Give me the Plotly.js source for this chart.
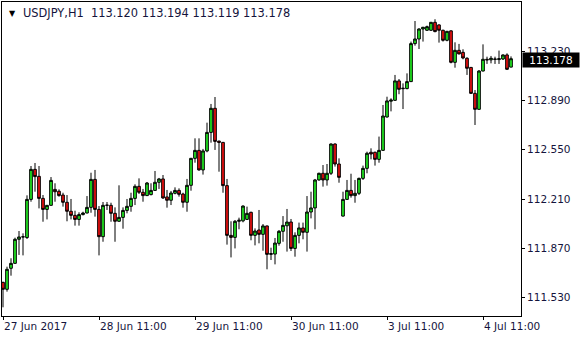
<!DOCTYPE html>
<html>
<head>
<meta charset="utf-8">
<script src="https://cdn.plot.ly/plotly-3.0.1.min.js"></script>
<style>html,body{margin:0;padding:0;background:#fff;}#chart{width:580px;height:340px;}</style>
</head>
<body>
<div id="chart"></div>
<script>
const symbol = "USDJPY,H1";
const openP = [111.636,111.588,111.733,111.767,111.933,111.949,111.945,112.208,112.415,112.367,
112.215,112.139,112.167,112.277,112.264,112.238,112.188,112.126,112.098,112.070,
112.103,112.114,112.153,112.346,112.139,111.951,112.167,112.167,112.112,112.057,
112.084,112.132,112.160,112.215,112.298,112.257,112.234,112.241,112.270,112.326,
112.349,112.225,112.202,112.250,112.270,112.245,112.188,112.305,112.491,112.546,
112.411,112.542,112.670,112.836,112.610,112.601,112.303,111.960,111.946,112.057,
112.060,112.070,112.119,111.960,111.997,111.967,112.025,111.829,111.831,111.905,
111.988,112.026,112.052,111.870,111.960,112.011,111.981,112.121,112.149,112.342,
112.388,112.342,112.388,112.590,112.452,112.093,112.208,112.270,112.234,112.250,
112.353,112.422,112.533,112.533,112.484,112.546,112.776,112.885,112.891,113.025,
112.971,112.972,113.020,113.282,113.314,113.383,113.374,113.374,113.429,113.411,
113.374,113.305,113.370,113.153,113.236,113.222,113.181,113.118,112.939,112.829,
113.093,113.174,113.170,113.176,113.172,113.176,113.204,113.120];
const highP = [111.640,111.744,111.802,111.944,111.990,111.974,112.236,112.438,112.459,112.438,
112.238,112.168,112.362,112.319,112.277,112.254,112.238,112.211,112.130,112.119,
112.123,112.231,112.392,112.411,112.162,112.190,112.190,112.185,112.153,112.305,
112.153,112.211,112.254,112.312,112.353,112.280,112.328,112.319,112.404,112.356,
112.376,112.273,112.266,112.291,112.284,112.254,112.349,112.494,112.629,112.629,
112.556,112.737,112.866,112.914,112.612,112.604,112.349,112.057,112.066,112.082,
112.167,112.158,112.123,112.008,112.135,112.038,112.027,111.875,111.942,111.997,
112.093,112.142,112.073,111.981,112.048,112.048,112.231,112.261,112.349,112.392,
112.445,112.452,112.594,112.594,112.491,112.261,112.342,112.385,112.342,112.358,
112.441,112.537,112.560,112.537,112.641,112.859,112.916,112.905,113.066,113.038,
113.008,113.077,113.296,113.438,113.388,113.396,113.406,113.431,113.450,113.415,
113.378,113.369,113.374,113.291,113.280,113.243,113.188,113.121,112.962,113.100,
113.277,113.192,113.197,113.192,113.234,113.208,113.215,113.194];
const lowP = [111.464,111.572,111.682,111.765,111.825,111.822,111.935,112.192,112.261,112.146,
112.054,112.070,112.165,112.192,112.227,112.158,112.057,112.070,112.027,112.027,
112.098,112.112,112.116,112.089,111.822,111.916,112.135,112.054,111.916,112.054,
112.006,112.112,112.123,112.169,112.245,112.192,112.232,112.236,112.266,112.280,
112.211,112.151,112.169,112.243,112.227,112.151,112.123,112.268,112.461,112.406,
112.379,112.533,112.599,112.549,112.399,112.254,111.896,111.808,111.870,112.002,
112.050,112.066,111.926,111.891,111.905,111.854,111.726,111.790,111.760,111.889,
111.916,111.848,111.852,111.813,111.905,111.933,111.848,112.077,112.002,112.337,
112.296,112.303,112.376,112.434,112.323,112.089,112.204,112.220,112.185,112.238,
112.342,112.388,112.484,112.441,112.461,112.544,112.772,112.815,112.887,112.933,
112.831,112.967,113.018,113.268,113.245,113.296,113.369,113.369,113.360,113.289,
113.296,113.298,113.146,113.116,113.208,113.174,113.066,112.935,112.721,112.827,
113.091,113.142,113.146,113.142,113.142,113.169,113.100,113.119];
const closeP = [111.588,111.726,111.767,111.933,111.949,111.950,112.208,112.415,112.365,112.215,
112.139,112.167,112.339,112.261,112.234,112.188,112.126,112.098,112.070,112.103,
112.114,112.153,112.346,112.139,111.951,112.167,112.168,112.112,112.057,112.084,
112.132,112.160,112.215,112.298,112.257,112.234,112.321,112.270,112.326,112.349,
112.218,112.202,112.252,112.270,112.243,112.188,112.305,112.491,112.546,112.411,
112.542,112.670,112.836,112.608,112.601,112.303,111.960,111.946,112.057,112.064,
112.162,112.112,111.960,111.990,111.967,112.025,111.829,111.834,111.907,111.988,
112.029,112.052,111.870,111.960,112.011,111.981,112.121,112.149,112.342,112.388,
112.342,112.388,112.590,112.452,112.360,112.208,112.270,112.234,112.250,112.353,
112.422,112.526,112.521,112.484,112.546,112.783,112.887,112.893,113.025,112.967,
112.974,113.020,113.282,113.314,113.383,113.395,113.399,113.429,113.365,113.374,
113.305,113.367,113.153,113.236,113.211,113.183,113.112,112.939,112.829,113.093,
113.174,113.170,113.181,113.174,113.178,113.204,113.105,113.178];
const xTickBars = [0, 24, 48, 72, 96, 120];
const xTickLabels = ["27 Jun 2017", "28 Jun 11:00", "29 Jun 11:00", "30 Jun 11:00", "3 Jul 11:00", "4 Jul 11:00"];
const yTickValues = [111.530, 111.870, 112.210, 112.550, 112.890, 113.230];
const yTickLabels = ["111.530", "111.870", "112.210", "112.550", "112.890", "113.230"];

const barIndex = openP.map((_, i) => i);
const last = openP.length - 1;
const fmt = v => v.toFixed(3);
const txtColor = "#14143c";
const font = {family: "DejaVu Sans", size: 10.5, color: txtColor};
const NB = "\u00a0";

const trace = {
  type: "candlestick",
  x: barIndex, open: openP, high: highP, low: lowP, close: closeP,
  increasing: {line: {color: "#000000", width: 1}, fillcolor: "#22ee22"},
  decreasing: {line: {color: "#000000", width: 1}, fillcolor: "#f01010"},
  whiskerwidth: 0,
  hoverinfo: "skip",
  showlegend: false
};

const headerText = symbol + NB + NB + fmt(openP[last]) + NB + fmt(highP[last]) + NB + fmt(lowP[last]) + NB + fmt(closeP[last]);

const layout = {
  width: 580, height: 340,
  margin: {l: 2, r: 59, t: 2, b: 24, pad: 0},
  paper_bgcolor: "#ffffff", plot_bgcolor: "#ffffff",
  showlegend: false,
  font: font,
  boxgap: 0.05,
  xaxis: {
    range: [-0.25, 129.5], showgrid: false, zeroline: false,
    showline: true, linecolor: "#000000", linewidth: 1, mirror: true,
    ticks: "outside", ticklen: 3, tickcolor: "#000000", tickwidth: 1,
    tickvals: xTickBars, ticktext: xTickLabels,
    ticklabelposition: "outside right",
    tickfont: font,
    rangeslider: {visible: false}, fixedrange: true
  },
  yaxis: {
    side: "right", range: [111.404, 113.569], showgrid: false, zeroline: false,
    showline: true, linecolor: "#000000", linewidth: 1, mirror: true,
    ticks: "outside", ticklen: 3, tickcolor: "#000000", tickwidth: 1,
    tickvals: yTickValues, ticktext: yTickLabels,
    tickfont: font, fixedrange: true
  },
  annotations: [
    {xref: "paper", yref: "paper", x: 0, y: 1, xanchor: "left", yanchor: "middle",
     xshift: 5, yshift: -11, text: "\u25BC", showarrow: false,
     font: {family: "DejaVu Sans", size: 8, color: "#000000"}},
    {xref: "paper", yref: "paper", x: 0, y: 1, xanchor: "left", yanchor: "middle",
     xshift: 19, yshift: -11, text: headerText, showarrow: false,
     font: {family: "DejaVu Sans", size: 11.4, color: txtColor}},
    {xref: "paper", yref: "y", x: 1, y: closeP[last], xanchor: "left", yanchor: "middle",
     xshift: 1, yshift: -1, text: fmt(closeP[last]), showarrow: false,
     bgcolor: "#000000", borderpad: 0, width: 56, height: 14, align: "center",
     font: {family: "DejaVu Sans", size: 10.5, color: "#ffffff"}}
  ]
};

Plotly.newPlot("chart", [trace], layout, {staticPlot: true, displayModeBar: false});
</script>
</body>
</html>
